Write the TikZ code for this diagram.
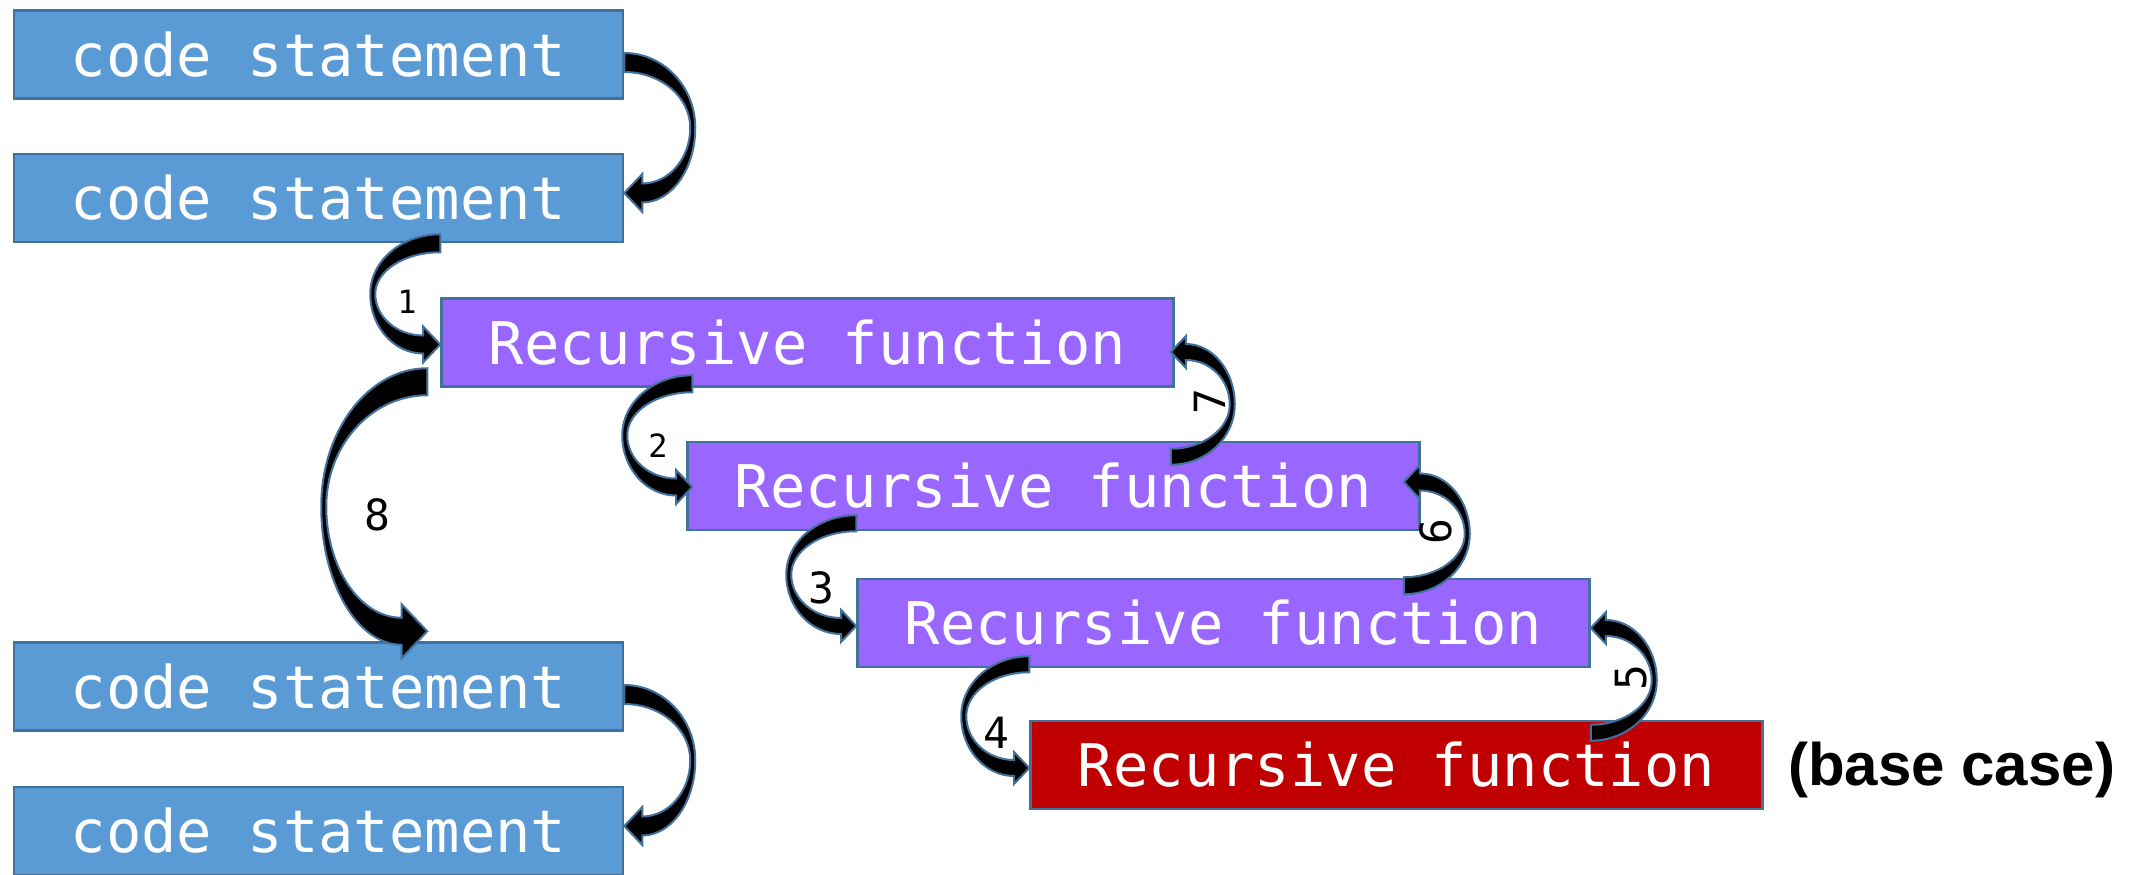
\documentclass[tikz,border=0pt]{standalone}
\usepackage{fontspec}
\setmonofont{DejaVu Sans Mono}
\newfontfamily\basefont{Liberation Sans}
\usetikzlibrary{calc}

\definecolor{stmtblue}{HTML}{5B9BD5}
\definecolor{recpurple}{HTML}{9966FF}
\definecolor{basered}{HTML}{C00000}
\definecolor{edgeblue}{HTML}{41719C}

\tikzset{
  box/.style={draw=edgeblue, line width=2.5pt, minimum height=88pt, inner sep=0pt,
    text=white, font=\ttfamily\fontsize{58.8}{60}\selectfont},
  stmt/.style={box, fill=stmtblue, minimum width=609pt},
  rec/.style={box, fill=recpurple, minimum width=732pt},
  bent/.style={fill=black, draw=edgeblue, line width=2pt},
  num/.style={font=\ttfamily\fontsize{43}{45}\selectfont, inner sep=0pt},
  smallnum/.style={font=\ttfamily\fontsize{32}{34}\selectfont, inner sep=0pt},
}

% curved block arrow: #1 tail, #2 tip, #3 down(1)/up(-1), #4 right(1)/left(-1), #5 bulge, #6 band
\newcommand{\bentarrow}[6]{%
  \path let \p1=(#1), \p2=(#2) in
    \pgfextra{\pgfmathsetmacro\tmpL{abs(\y1-\y2)}\global\let\arrL\tmpL};
  \begin{scope}[shift={(#1)}, x={({#4*1pt},0pt)}, y={(0pt,{-1*(#3)*1pt})}]
    \pgfmathsetmacro\arrB{#5}
    \pgfmathsetmacro\arrT{#6/2}
    \pgfmathsetmacro\arrH{#6*0.95}
    \pgfmathsetmacro\arrW{#6}
    \pgfmathsetmacro\arrM{\arrL/2}
    \pgfmathsetmacro\arrI{#5-5}
    \filldraw[bent]
      (0,-\arrT) .. controls ({0.552*\arrB},-\arrT) and (\arrB,{\arrM-0.552*(\arrM+\arrT)}) .. (\arrB,\arrM)
      .. controls (\arrB,{\arrM+0.552*(\arrL+\arrT-\arrM)}) and ({\arrH+0.552*(\arrB-\arrH)},{\arrL+\arrT}) .. (\arrH,{\arrL+\arrT})
      -- (\arrH,{\arrL+\arrW}) -- (0,\arrL) -- (\arrH,{\arrL-\arrW}) -- (\arrH,{\arrL-\arrT})
      .. controls ({\arrH+0.552*(\arrI-\arrH)},{\arrL-\arrT}) and (\arrI,{\arrM+0.552*(\arrL-\arrT-\arrM)}) .. (\arrI,\arrM)
      .. controls (\arrI,{\arrM-0.552*(\arrM-\arrT)}) and ({0.552*\arrI},\arrT) .. (0,\arrT) -- cycle;
  \end{scope}}

\begin{document}
\begin{tikzpicture}[x=1pt, y=-1pt]
    \useasboundingbox (0,0) rectangle (2134,875);

    % code statements
    \node[stmt] (cs1) at (318.5,54.5) {code statement};
    \node[stmt] (cs2) at (318.5,198) {code statement};
    \node[stmt] (cs3) at (318.5,686.5) {code statement};
    \node[stmt] (cs4) at (318.5,831) {code statement};

    % nested calls
    \node[rec] (r1) at (807.5,342.5) {Recursive function};
    \node[rec] (r2) at (1053.5,486) {Recursive function};
    \node[rec] (r3) at (1223.5,623) {Recursive function};
    \node[rec, fill=basered] (r4) at (1396.5,765) {Recursive function};
    \node[font=\basefont\bfseries\fontsize{60}{62}\selectfont, anchor=west, inner sep=0pt] (base) at (1788,770) {(base case)};

    % arrow ends
    \coordinate (t0) at ($(cs1.east)+(0,8)$);
    \coordinate (p0) at ($(cs2.east)+(2,-5)$);
    \coordinate (t1) at (r1.west |- cs2.south);
    \coordinate (p1) at ($(r1.west)+(0,2)$);
    \coordinate (t2) at ($(r2.west |- r1.south)+(6,-4)$);
    \coordinate (p2) at ($(r2.west)+(5,1)$);
    \coordinate (t3) at ($(r3.west |- r2.south)+(0,-8)$);
    \coordinate (p3) at ($(r3.west)+(0,3)$);
    \coordinate (t4) at ($(r4.west |- r3.south)+(0,-4)$);
    \coordinate (p4) at ($(r4.west)+(0,3)$);
    \coordinate (t5) at ($(r3.east |- r4.north)+(0,13)$);
    \coordinate (p5) at ($(r3.east)+(0,5)$);
    \coordinate (t6) at ($(r2.east |- r3.north)+(-17,8)$);
    \coordinate (p6) at ($(r2.east)+(-17,-4)$);
    \coordinate (t7) at ($(r1.east |- r2.north)+(-4,16)$);
    \coordinate (p7) at ($(r1.east)+(-4,9.5)$);
    \coordinate (t8) at ($(r1.south west)+(-13,-6)$);
    \coordinate (p8) at ($(r1.south west |- cs3.north)+(-12,-10)$);
    \coordinate (t9) at ($(cs3.east)+(0,8)$);
    \coordinate (p9) at ($(cs4.east)+(2,-5)$);

    % curved arrows
    \bentarrow{t0}{p0}{1}{1}{71}{19}
    \bentarrow{t1}{p1}{1}{-1}{70}{18}
    \bentarrow{t2}{p2}{1}{-1}{70}{17}
    \bentarrow{t3}{p3}{1}{-1}{70}{16}
    \bentarrow{t4}{p4}{1}{-1}{68}{16}
    \bentarrow{t5}{p5}{-1}{1}{66}{16}
    \bentarrow{t6}{p6}{-1}{1}{66}{17}
    \bentarrow{t7}{p7}{-1}{1}{64}{16}
    \bentarrow{t8}{p8}{1}{-1}{106}{27}
    \bentarrow{t9}{p9}{1}{1}{71}{19}

    % step numbers
    \node[smallnum] (n1) at (407,302) {1};
    \node[smallnum] (n2) at (658,446) {2};
    \node[num] (n3) at (821,588) {3};
    \node[num] (n4) at (996,733) {4};
    \node[num, rotate=90] (n5) at (1631,678) {5};
    \node[num, rotate=90] (n6) at (1436,532) {6};
    \node[num, rotate=90] (n7) at (1210,402) {7};
    \node[num] (n8) at (377,515) {8};
\end{tikzpicture}
\end{document}
